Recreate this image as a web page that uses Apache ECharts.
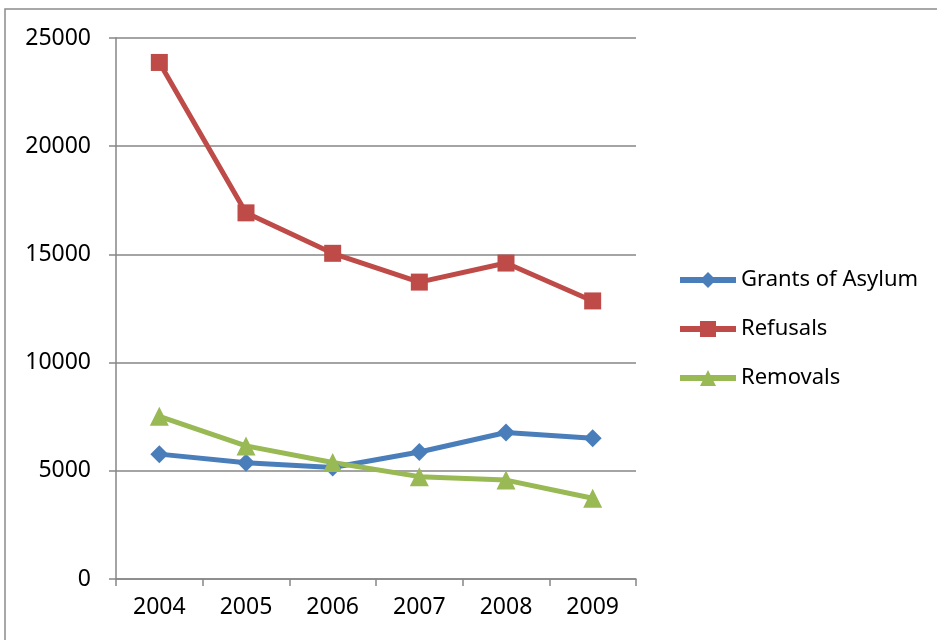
<!DOCTYPE html>
<html><head><meta charset="utf-8">
<script src="https://cdn.jsdelivr.net/npm/echarts@6/dist/echarts.min.js"></script>
<style>html,body{margin:0;padding:0;background:#fff}#c{width:937px;height:640px}</style>
</head><body><div id="c"></div>
<script>
var categories = ['2004','2005','2006','2007','2008','2009'];
var grants = [5770, 5370, 5150, 5870, 6770, 6500];
var refusals = [23870, 16920, 15050, 13720, 14600, 12850];
var removals = [7520, 6150, 5380, 4730, 4570, 3730];
var seriesNames = ['Grants of Asylum', 'Refusals', 'Removals'];
var yTicks = {min: 0, max: 25000, interval: 5000};

var font = '"Noto Sans", "Open Sans", sans-serif';
var chart = echarts.init(document.getElementById('c'), null, {renderer: 'canvas'});
function s(name, data, color, symbol, size) {
  return {
    name: name, type: 'line', data: data, symbol: symbol, symbolSize: size,
    lineStyle: {color: color, width: 5}, itemStyle: {color: color}, z: 3,
    emphasis: {disabled: true}, animation: false
  };
}
chart.setOption({
  animation: false,
  backgroundColor: '#fff',
  graphic: [{type: 'rect', shape: {x: 5, y: 9, width: 960, height: 660}, style: {fill: 'none', stroke: '#8c8c8c', lineWidth: 1.5}, silent: true}],
  grid: {left: 116, right: 301, top: 38, bottom: 61},
  xAxis: {
    type: 'category', data: categories, boundaryGap: true,
    axisLine: {lineStyle: {color: '#868686', width: 1.5}},
    axisTick: {show: true, length: 7, inside: false, lineStyle: {color: '#868686', width: 1.5}},
    axisLabel: {color: '#000', fontFamily: font, fontSize: 23, margin: 17},
    splitLine: {show: false}
  },
  yAxis: {
    type: 'value', min: yTicks.min, max: yTicks.max, interval: yTicks.interval,
    axisLine: {show: true, lineStyle: {color: '#868686', width: 1.5}},
    axisTick: {show: true, length: 7, lineStyle: {color: '#868686', width: 1.5}},
    axisLabel: {color: '#000', fontFamily: font, fontSize: 23, margin: 25, formatter: function (v) { return String(v); }},
    splitLine: {lineStyle: {color: '#868686', width: 1.5}}
  },
  legend: {
    orient: 'vertical', left: 672, top: 264, itemWidth: 56, itemHeight: 20, itemGap: 27,
    lineStyle: {width: 6},
    textStyle: {color: '#000', fontFamily: font, fontSize: 22},
    data: seriesNames
  },
  series: [
    s(seriesNames[0], grants, '#4A7EBB', 'diamond', 18),
    s(seriesNames[1], refusals, '#BE4B48', 'rect', 17),
    s(seriesNames[2], removals, '#98B954', 'triangle', 19)
  ]
});
</script></body></html>
